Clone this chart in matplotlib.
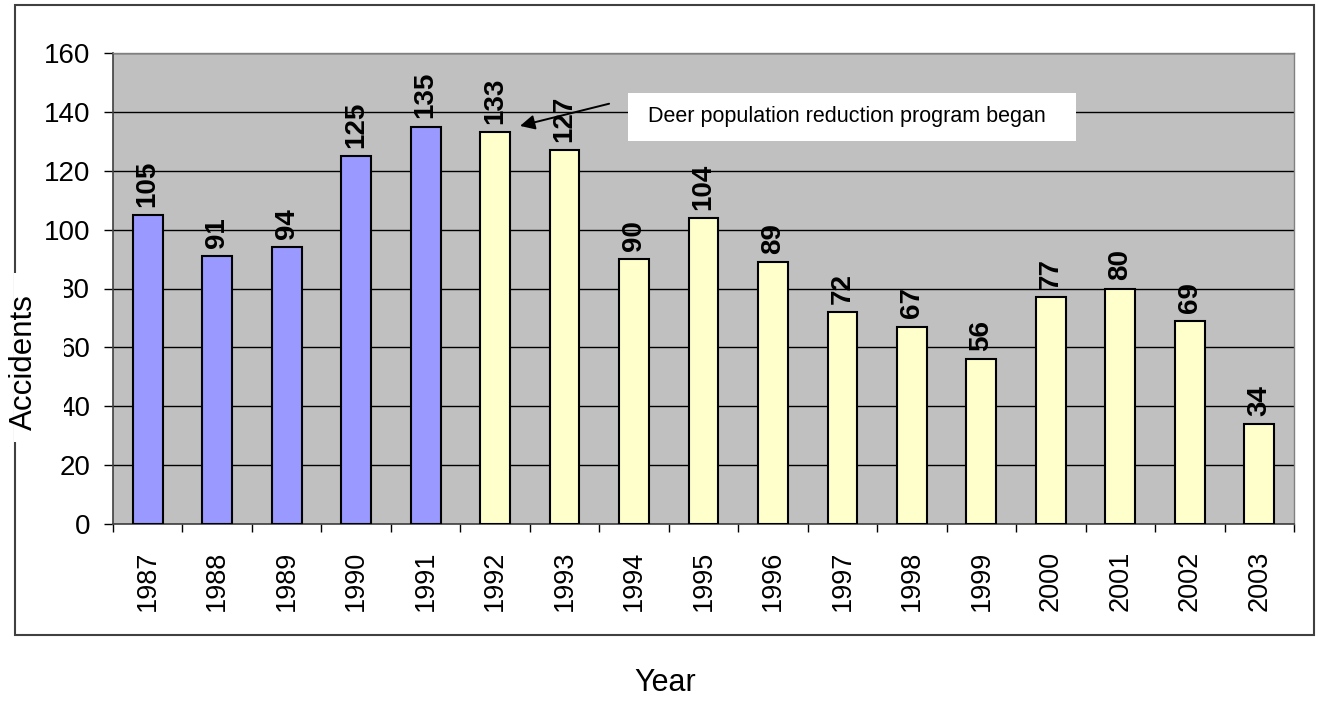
import matplotlib
matplotlib.use("Agg")
import matplotlib.pyplot as plt
from matplotlib.patches import Rectangle
import numpy as np

plt.rcParams["font.family"] = ["Liberation Sans", "DejaVu Sans"]

# Data
years = ["1987", "1988", "1989", "1990", "1991", "1992", "1993", "1994", "1995",
         "1996", "1997", "1998", "1999", "2000", "2001", "2002", "2003"]
accidents = [105, 91, 94, 125, 135, 133, 127, 90, 104, 89, 72, 67, 56, 77, 80, 69, 34]
program_start = "1992"
note = "Deer population reduction program began"

W, H = 1318, 702
fig = plt.figure(figsize=(W / 100, H / 100), dpi=100)
ax = fig.add_axes([113 / W, 1 - 524 / H, (1294 - 113) / W, (524 - 53) / H])
ax.set_facecolor("#C0C0C0")

x = np.arange(len(years))
start = years.index(program_start)
colors = ["#9999FF" if i < start else "#FFFFCC" for i in range(len(years))]
ax.bar(x, accidents, width=0.43, color=colors, edgecolor="black", linewidth=1.5, zorder=3)

for xi, v in zip(x, accidents):
    ax.annotate(str(v), (xi, v), xytext=(0, 6), textcoords="offset points",
                rotation=90, ha="center", va="bottom", fontsize=20,
                fontweight="bold", zorder=4)

ax.set_xlim(-0.5, len(years) - 0.5)
ax.set_ylim(0, 160)
ax.set_yticks(np.arange(0, 161, 20))
ax.yaxis.grid(True, color="black", linewidth=1)
ax.set_axisbelow(True)
ax.tick_params(axis="y", labelsize=20, length=6.5, width=1, pad=10, direction="out")

ax.set_xticks(x)
ax.set_xticklabels(years, rotation=90, fontsize=19.5)
ax.tick_params(axis="x", which="major", length=0, pad=19)
ax.set_xticks(np.arange(-0.5, len(years)), minor=True)
ax.tick_params(axis="x", which="minor", length=6, width=1, direction="out")

for side in ["left", "bottom"]:
    ax.spines[side].set_color("#404040")
    ax.spines[side].set_linewidth(1.2)
for side in ["top", "right"]:
    ax.spines[side].set_color("#808080")
    ax.spines[side].set_linewidth(1)

# Annotation box and arrow
fig.patches.append(Rectangle((628 / W, 1 - 141 / H), (1076 - 628) / W, 48 / H,
                             transform=fig.transFigure, facecolor="white",
                             edgecolor="none", zorder=1))
fig.text(648 / W, 1 - 122 / H, note, fontsize=15.5, ha="left", va="baseline", zorder=2)
ax.annotate("", xy=(start + 0.32, 135), xytext=(start + 1.68, 143),
            arrowprops=dict(arrowstyle="-|>", color="black", lw=1.4,
                            mutation_scale=22), zorder=6)

# Outer border
fig.patches.append(Rectangle((15 / W, 1 - 635 / H), (1314 - 15) / W, (635 - 5) / H,
                             transform=fig.transFigure, fill=False,
                             edgecolor="#404040", linewidth=1.5, zorder=0))

# Axis titles
fig.patches.append(Rectangle((14 / W, 1 - 442 / H), 50 / W, (442 - 273) / H,
                             transform=fig.transFigure, facecolor="white",
                             edgecolor="none", zorder=1))
fig.text(24 / W, 1 - 362 / H, "Accidents", rotation=90, fontsize=22.5,
         ha="center", va="center", zorder=2)
fig.text(665 / W, 1 - 683 / H, "Year", fontsize=22, ha="center", va="center")

fig.savefig("out.png", dpi=100)
